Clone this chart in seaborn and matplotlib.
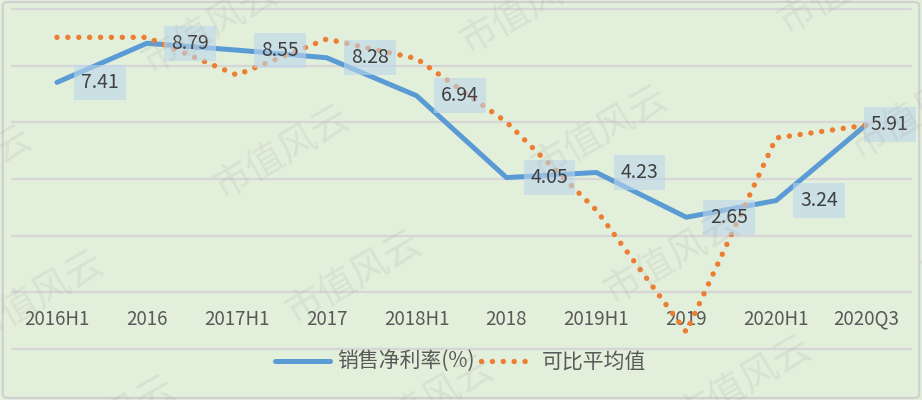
import numpy as np
import pandas as pd
import seaborn as sns
import matplotlib.pyplot as plt
from matplotlib.patches import FancyBboxPatch

periods = ['2016H1', '2016', '2017H1', '2017', '2018H1', '2018', '2019H1', '2019', '2020H1', '2020Q3']
net_margin = [7.41, 8.79, 8.55, 8.28, 6.94, 4.05, 4.23, 2.65, 3.24, 5.91]
peer_avg = [9.0, 9.0, 7.67, 8.94, 8.25, 6.01, 2.9, -1.40, 5.45, 5.9]

BG = '#E2EFDA'
BLUE = '#5B9BD5'
ORANGE = '#ED7D31'
TXT = '#595959'


def main():
  sns.set_style('white', {'axes.facecolor': BG, 'figure.facecolor': BG})
  plt.rcParams['font.family'] = ['Noto Sans CJK SC', 'DejaVu Sans']

  df = pd.DataFrame({'pos': np.arange(len(periods)), 'period': periods,
                     'net': net_margin, 'peer': peer_avg})

  fig = plt.figure(figsize=(9.22, 4), dpi=100)
  ax = fig.add_axes([12 / 922, 51 / 400, 899 / 922, 340 / 400])
  ax.set_facecolor(BG)

  sns.lineplot(data=df, x='pos', y='net', ax=ax, color=BLUE, lw=3.6,
               label='销售净利率(%)', zorder=3, sort=False)
  sns.lineplot(data=df, x='pos', y='peer', ax=ax, color=ORANGE, lw=3.9,
               linestyle=(0, (0.01, 2.0)), dash_capstyle='round',
               label='可比平均值', zorder=3, sort=False)

  ax.set_xlim(-0.5, len(periods) - 0.5)
  ax.set_ylim(-2, 10)
  ax.set_yticks(np.arange(-2, 11, 2))
  ax.set_yticklabels([])
  ax.set_xticks(df['pos'])
  ax.set_xticklabels(periods, fontsize=13.5, color=TXT)
  ax.tick_params(axis='x', length=0, pad=-29)
  ax.tick_params(axis='y', length=0)
  ax.grid(axis='y', color='#D6D6D6', lw=1.6, clip_on=False)
  ax.set_axisbelow(True)
  ax.set_xlabel('')
  ax.set_ylabel('')
  for s in ax.spines.values():
    s.set_visible(False)

  # data labels to the right of each point, in light blue boxes
  for i, v in enumerate(net_margin):
    dx = 17 if i == len(net_margin) - 1 else 31
    ax.annotate(f'{v:.2f}', (i, v), xytext=(dx, 0), textcoords='offset points',
                ha='center', va='center', fontsize=14, color='#404040', zorder=5,
                bbox=dict(boxstyle='square,pad=0.36', fc=(189/255, 215/255, 238/255, 0.6), ec='none'))

  handles, labels = ax.get_legend_handles_labels()
  ax.get_legend().remove()
  fig.legend(handles, labels, loc='center', bbox_to_anchor=(461 / 922, 0.095), ncol=2,
             frameon=False, fontsize=15, labelcolor=TXT, handlelength=2.6,
             handletextpad=0.35, columnspacing=0.3)

  # watermark grid
  for i in range(-3, 4):
    for j in range(-2, 4):
      cx = 282 + 72 * i + 318 * j
      cy = 153 + 125 * i - 20 * j
      if -120 < cx < 1040 and -80 < cy < 480:
        fig.text(cx / 922, 1 - cy / 400, '市值风云', rotation=30, ha='center', va='center',
                 rotation_mode='anchor', fontsize=27, fontweight=100,
                 color='#A0A0A0', alpha=0.16, zorder=6)

  fig.patches.append(FancyBboxPatch((0.003, 0.005), 0.994, 0.99,
                                    boxstyle='round,pad=0,rounding_size=0.008',
                                    transform=fig.transFigure, fc='none', ec='#CFCFCF', lw=1.5))

  fig.savefig('out.png', dpi=100, facecolor=BG)


if __name__ == '__main__':
  main()
